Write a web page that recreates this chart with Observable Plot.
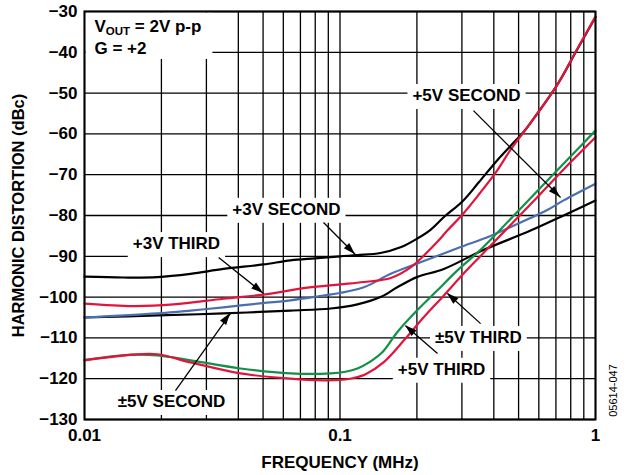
<!DOCTYPE html>
<html>
<head>
<meta charset="utf-8">
<script src="https://cdn.jsdelivr.net/npm/d3@7"></script>
<script src="https://cdn.jsdelivr.net/npm/@observablehq/plot@0.6"></script>
<style>
  html, body { margin: 0; padding: 0; background: #fff; }
  #chart { width: 627px; height: 475px; }
</style>
</head>
<body>
<div id="chart"></div>
<script>
// ---------- data ----------
const gridFreqs = [0.01,0.02,0.03,0.04,0.05,0.06,0.07,0.08,0.09,0.1,0.2,0.3,0.4,0.5,0.6,0.7,0.8,0.9,1];
const xTickLabels = [0.01, 0.1, 1];
const yTicks = [-130,-120,-110,-100,-90,-80,-70,-60,-50,-40,-30];

// +3V SECOND (black, upper)
const f3VSecond = [0.01,0.0142,0.0193,0.026,0.035,0.05,0.064,0.08,0.1,0.117,0.144,0.1725,0.2,0.226,0.254,0.304,0.35,0.412,0.464,0.523,0.557,0.708,0.848,1];
const v3VSecond = [-95,-95.2,-95.1,-94.3,-93.1,-92,-91,-90.5,-90,-89.7,-89.2,-87.8,-85.7,-83.5,-80.5,-76.3,-71.8,-66.5,-63,-59.5,-57.3,-48,-39.3,-31.4];
// +3V THIRD (red, upper)
const f3VThird = [0.01,0.0155,0.0223,0.035,0.05,0.0746,0.1,0.124,0.158,0.189,0.213,0.24,0.263,0.304,0.35,0.412,0.464,0.523,0.557,0.708,0.848,1];
const v3VThird = [-101.6,-102.2,-101.8,-100.4,-99.4,-97.7,-96.9,-96.3,-95.3,-92.7,-89.8,-86.5,-83.7,-79.5,-74.8,-69,-64,-59.6,-57.3,-48,-39.2,-31.2];
// +5V SECOND (blue)
const f5VSecond = [0.01,0.0193,0.026,0.035,0.0475,0.064,0.0862,0.1,0.124,0.158,0.2,0.25,0.3,0.388,0.557,0.65,0.75,1];
const v5VSecond = [-105,-104,-103.3,-102.5,-101.6,-100.8,-99.6,-99,-97.6,-94.3,-91.8,-89.5,-87.6,-85,-80.6,-78.6,-76.3,-72.2];
// ±5V SECOND (black, lower)
const fpm5VSecond = [0.01,0.0193,0.035,0.064,0.092,0.117,0.144,0.1675,0.2,0.255,0.36,0.557,0.75,1];
const vpm5VSecond = [-105,-104.5,-104,-103.3,-102.8,-101.8,-100,-97.6,-95.1,-93.1,-88.6,-83.7,-80,-76.3];
// ±5V THIRD (green)
const fpm5VThird = [0.01,0.0155,0.0193,0.026,0.0408,0.064,0.0918,0.105,0.117,0.13,0.146,0.1675,0.2,0.24,0.2875,0.355,0.464,0.609,0.8,1];
const vpm5VThird = [-115.4,-114.1,-114.3,-115.5,-117.5,-118.7,-118.7,-118.3,-117.5,-116,-113.6,-108.6,-103.3,-98.4,-93.5,-88.4,-80.9,-73.2,-65.5,-59.2];
// +5V THIRD (red, lower)
const f5VThird = [0.01,0.0155,0.0193,0.026,0.0408,0.064,0.0862,0.1,0.112,0.126,0.148,0.178,0.213,0.255,0.304,0.355,0.464,0.609,0.8,1];
const v5VThird = [-115.5,-114.1,-114,-116,-118.7,-120,-120.4,-120.3,-119.9,-118.9,-116,-110.6,-104.9,-99.6,-94.3,-89.9,-82.4,-74.7,-66.9,-60.8];

// annotation labels (centre positions in data units)
const labelText = ["+3V SECOND","+3V THIRD","±5V SECOND","+5V SECOND","±5V THIRD","+5V THIRD"];
const labelF = [0.0617, 0.0229, 0.0219, 0.3128, 0.348, 0.2496];
const labelV = [-78.5, -86.9, -125.6, -50.6, -109.9, -117.7];

// arrows: tail (f1,v1) -> tip (f2,v2)
const arrowF1 = [0.0862, 0.0335, 0.0227, 0.333, 0.355, 0.2408];
const arrowV1 = [-81.7, -90.3, -122.9, -54.3, -106.5, -113.8];
const arrowF2 = [0.115, 0.0502, 0.0373, 0.730, 0.2634, 0.1805];
const arrowV2 = [-89.6, -99.1, -104.0, -75.6, -99.1, -107.0];

// conditions note
const noteText = ["VOUT = 2V p-p", "G = +2"];
const noteF = [0.01094, 0.01094];
const noteV = [-35.0, -40.4];

// ---------- build ----------
const toRows = (fs, vs) => fs.map((f, i) => ({f, v: vs[i]}));
const labels = labelText.map((t, i) => ({t, f: labelF[i], v: labelV[i]}));
const arrows = arrowF1.map((f, i) => ({f1: f, v1: arrowV1[i], f2: arrowF2[i], v2: arrowV2[i]}));
const notes = noteText.map((t, i) => ({t, f: noteF[i], v: noteV[i]}));

const FONT = "'Liberation Sans', Arial, Helvetica, sans-serif";
const RED = "#e2143c", GREEN = "#139048", BLUE = "#4b6fae";
const lw = 2.2;

const plot = Plot.plot({
  width: 627,
  height: 475,
  marginLeft: 84,
  marginRight: 32,
  marginTop: 11,
  marginBottom: 56,
  style: {fontFamily: FONT, fontWeight: "bold", fontSize: "17px", background: "#fff", color: "#000", overflow: "visible"},
  x: {type: "log", domain: [0.01, 1]},
  y: {domain: [-130, -30]},
  marks: [
    Plot.gridX(gridFreqs, {stroke: "#000", strokeOpacity: 1, strokeWidth: 1.3}),
    Plot.gridY(yTicks, {stroke: "#000", strokeOpacity: 1, strokeWidth: 1.3}),
    Plot.text(notes, {x: "f", y: "v", text: "t", textAnchor: "start", lineAnchor: "bottom", fontSize: 17, fontWeight: "bold", fill: "#000"}),
    Plot.text(labels, {x: "f", y: "v", text: "t", textAnchor: "middle", lineAnchor: "middle", fontSize: 17, fontWeight: "bold", fill: "#000"}),
    Plot.line(toRows(fpm5VSecond, vpm5VSecond), {x: "f", y: "v", stroke: "#000", strokeWidth: lw, curve: "catmull-rom"}),
    Plot.line(toRows(f5VSecond, v5VSecond), {x: "f", y: "v", stroke: BLUE, strokeWidth: lw, curve: "catmull-rom"}),
    Plot.line(toRows(f3VSecond, v3VSecond), {x: "f", y: "v", stroke: "#000", strokeWidth: lw, curve: "catmull-rom"}),
    Plot.line(toRows(f3VThird, v3VThird), {x: "f", y: "v", stroke: RED, strokeWidth: lw, curve: "catmull-rom"}),
    Plot.line(toRows(fpm5VThird, vpm5VThird), {x: "f", y: "v", stroke: GREEN, strokeWidth: lw, curve: "catmull-rom"}),
    Plot.line(toRows(f5VThird, v5VThird), {x: "f", y: "v", stroke: RED, strokeWidth: lw, curve: "catmull-rom"}),
    Plot.link(arrows, {x1: "f1", y1: "v1", x2: "f2", y2: "v2", stroke: "#000", strokeWidth: 1.3}),
    Plot.frame({stroke: "#000", strokeWidth: 2}),
    Plot.axisX(xTickLabels, {tickSize: 0, tickPadding: 9, tickFormat: d => String(d), label: null, fontSize: 17}),
    Plot.axisY(yTicks, {tickSize: 0, tickPadding: 7, label: null, fontSize: 17}),
    Plot.text(["FREQUENCY (MHz)"], {text: d => d, frameAnchor: "bottom", lineAnchor: "middle", dy: 43, fontSize: 17, fontWeight: "bold"}),
    Plot.text(["HARMONIC DISTORTION (dBc)"], {text: d => d, frameAnchor: "left", rotate: -90, textAnchor: "middle", lineAnchor: "middle", dx: -66, fontSize: 16.5, fontWeight: "bold"}),
    Plot.text(["05614-047"], {text: d => d, frameAnchor: "right", rotate: -90, textAnchor: "middle", lineAnchor: "middle", dx: 18, dy: 175, fontSize: 11, fontWeight: "normal"})
  ]
});

document.getElementById("chart").appendChild(plot);

// ---------- post-processing ----------
const svg = plot.tagName.toLowerCase() === "svg" ? plot : plot.querySelector("svg");
const NS = "http://www.w3.org/2000/svg";
const svgRect = svg.getBoundingClientRect();
const texts = Array.from(svg.querySelectorAll("text"));

// subscript for VOUT
const vout = texts.find(t => t.textContent === "VOUT = 2V p-p");
if (vout) {
  vout.textContent = "";
  const a = document.createElementNS(NS, "tspan"); a.textContent = "V";
  const b = document.createElementNS(NS, "tspan"); b.textContent = "OUT"; b.setAttribute("dy", "3.5"); b.setAttribute("font-size", "11.5");
  const c = document.createElementNS(NS, "tspan"); c.textContent = " = 2V p-p"; c.setAttribute("dy", "-3.5");
  vout.append(a, b, c);
}

// white boxes behind labels
const boxG = document.createElementNS(NS, "g");
const addBox = (x0, y0, x1, y1) => {
  const r = document.createElementNS(NS, "rect");
  r.setAttribute("x", x0); r.setAttribute("y", y0);
  r.setAttribute("width", x1 - x0); r.setAttribute("height", y1 - y0);
  r.setAttribute("fill", "#fff");
  boxG.appendChild(r);
};
const bb = el => { const r = el.getBoundingClientRect(); return {x0: r.left - svgRect.left, y0: r.top - svgRect.top, x1: r.right - svgRect.left, y1: r.bottom - svgRect.top}; };
const noteEls = texts.filter(t => noteText.includes(t.textContent) || t === vout);
if (noteEls.length) {
  const bs = noteEls.map(bb);
  const sx = plot.scale("x"), sy = plot.scale("y");
  addBox(sx.apply(0.01) + 1.5, sy.apply(-30) + 1.5, Math.max(...bs.map(b => b.x1)) + 11, Math.max(...bs.map(b => b.y1)) + 1);
}
texts.filter(t => labelText.includes(t.textContent)).forEach(t => {
  const b = bb(t);
  addBox(b.x0 - 5, b.y0 - 2, b.x1 + 5, b.y1 + 4);
});
const firstTextG = noteEls.length ? noteEls[0].parentNode : null;
if (firstTextG) svg.insertBefore(boxG, firstTextG);

// filled arrowheads at the link tips
{
  const sx = plot.scale("x"), sy = plot.scale("y");
  const headG = document.createElementNS(NS, "g");
  arrows.forEach(a => {
    const x1 = sx.apply(a.f1), y1 = sy.apply(a.v1), x2 = sx.apply(a.f2), y2 = sy.apply(a.v2);
    const ang = Math.atan2(y2 - y1, x2 - x1);
    const L = 12, W = 3.8;
    const bx = x2 - L * Math.cos(ang), by = y2 - L * Math.sin(ang);
    const p = [[x2, y2], [bx + W * Math.sin(ang), by - W * Math.cos(ang)], [bx - W * Math.sin(ang), by + W * Math.cos(ang)]];
    const poly = document.createElementNS(NS, "polygon");
    poly.setAttribute("points", p.map(q => q.join(",")).join(" "));
    poly.setAttribute("fill", "#000");
    headG.appendChild(poly);
  });
  svg.appendChild(headG);
}
</script>
</body>
</html>
